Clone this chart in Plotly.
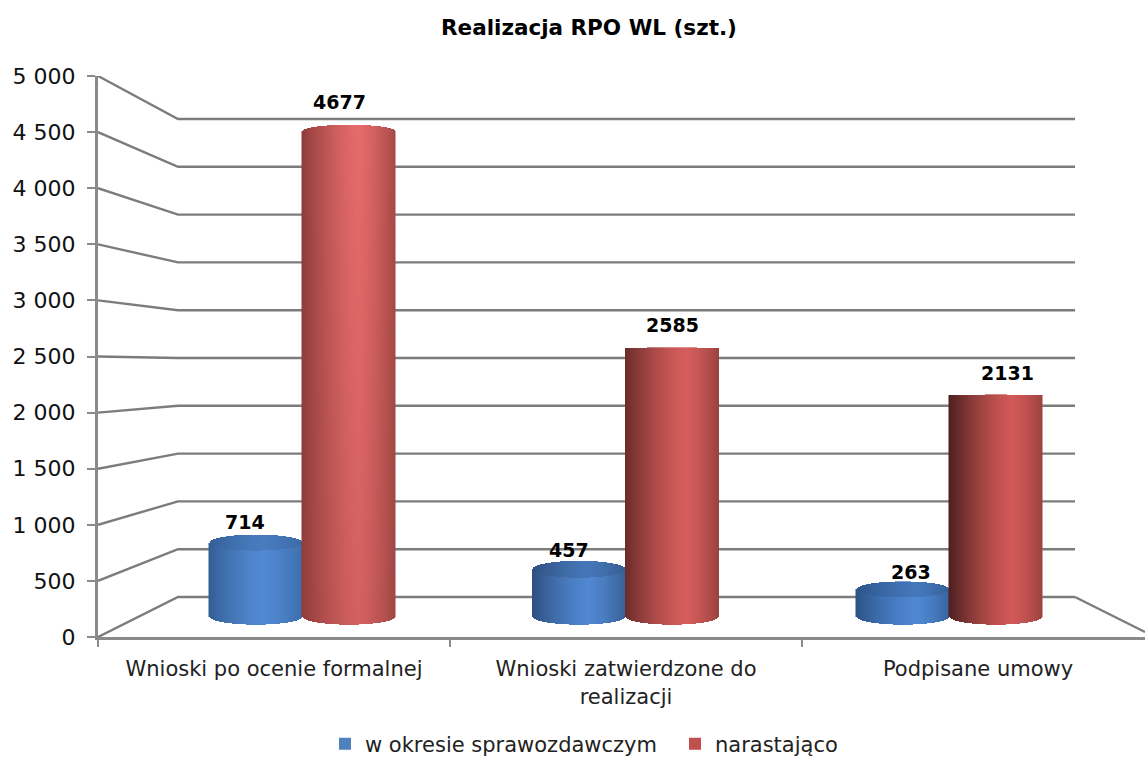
import numpy as np
import plotly.graph_objects as go

categories = ["Wnioski po ocenie formalnej", "Wnioski zatwierdzone do<br>realizacji", "Podpisane umowy"]
series_names = ["w okresie sprawozdawczym", "narastająco"]
period_values = [714, 457, 263]
cumulative_values = [4677, 2585, 2131]
y_ticks = [0, 500, 1000, 1500, 2000, 2500, 3000, 3500, 4000, 4500, 5000]
y_tick_labels = ["0", "500", "1 000", "1 500", "2 000", "2 500", "3 000", "3 500", "4 000", "4 500", "5 000"]

FONT = "DejaVu Sans"
W, H = 1145, 760
L, T, B = 98, 76, 637           # plot frame in pixels
GRID = "#7c7c7c"
AXIS = "#8a8a8a"
BLUE, RED = "#4f81bd", "#c0504d"

# front axis: 0..5000 over the frame height; categories 352 px apart
y_scale = (B - T) / 5000
x_range = [-0.5, -0.5 + (W - L) / 352]
y_range = [0, 5000]

# plane of the bars (between front and back walls)
bar_scale, bar_base_px = 0.1038, 617
bar_y_range = [(bar_base_px - B) / bar_scale, (bar_base_px - T) / bar_scale]
bar_step_px, bar_centre_px = 323.5, 302
bar_x_range = [(L - bar_centre_px) / bar_step_px, (W - bar_centre_px) / bar_step_px]
bar_w = 93 / bar_step_px

# back wall expressed on the front axis
back_scale, back_base_px = 0.0956, 597
def back(v):
    return (B - (back_base_px - v * back_scale)) / y_scale
def px_x(p):
    return (p - L) / 352 - 0.5

wx, wy = [], []
for v in y_ticks:
    wx += [-0.5, px_x(178), px_x(1075), None]
    wy += [v, back(v), back(v), None]
wx += [px_x(1075), px_x(1145)]
wy += [back(0), (B - 632) / y_scale]

fig = go.Figure()
fig.add_trace(go.Scatter(x=wx, y=wy, mode="lines", line=dict(color=GRID, width=2.4),
                         showlegend=False, hoverinfo="skip", xaxis="x", yaxis="y"))

xs = list(range(len(categories)))
fig.add_trace(go.Bar(x=xs, y=period_values, name=series_names[0], width=bar_w, offset=-bar_w,
                     marker=dict(color=BLUE, line=dict(width=0)), xaxis="x2", yaxis="y2", hoverinfo="skip"))
fig.add_trace(go.Bar(x=xs, y=cumulative_values, name=series_names[1], width=bar_w, offset=0,
                     marker=dict(color=RED, line=dict(width=0)), xaxis="x2", yaxis="y2", hoverinfo="skip"))

# cylinder shading: (dark edge, highlight, highlight position, right edge level, top-rim px, vertical fade)
blue_style = [("#345f96", "#5189d2", 0.15, 0.35, 8, 0.0),
              ("#2f5080", "#5087d0", 0.20, 0.30, 8.5, 0.0),
              ("#2d5488", "#4f87d2", 0.30, 0.30, 8, 0.0)]
red_style = [("#8f3d3b", "#e56b6a", 0.20, 0.25, 6.5, 0.22),
             ("#6b2c2a", "#d55d5b", 0.30, 0.45, 1, 0.0),
             ("#4d2120", "#d05856", 0.35, 0.60, 1, 0.0)]
BOTTOM_RY = 8 / bar_scale
POWER = 1.4

def cylinder(centre, value, style):
    dark, hi, tp, right, ry_px, fade = style
    ry = ry_px / bar_scale
    x = np.linspace(centre, centre + bar_w, 94)
    y = np.arange(-BOTTOM_RY - 8, value + ry + 8, 1.0 / bar_scale)
    t = (x - centre) / bar_w * 2 - 1
    e = np.sqrt(np.clip(1 - t ** 2, 0, 1))
    prof = np.where(t < tp, 1 - (np.abs(t - tp) / (1 + tp)) ** POWER,
                    1 - (1 - right) * (np.abs(t - tp) / (1 - tp)) ** POWER)
    Y, _ = np.meshgrid(y, x, indexing="ij")
    P = np.tile(prof, (len(y), 1))
    E = np.tile(e, (len(y), 1))
    Z = P * (1 - fade * (1 - np.clip(Y / max(value, 1), 0, 1)))
    if ry_px > 7 and value < 1000:
        cap = Y > value - ry * E
        Z = np.where(cap, Z * 0.68, Z)
    Z = np.where((Y < -BOTTOM_RY * E) | (Y > value + ry * E), np.nan, Z)
    return go.Heatmap(x=x, y=y, z=np.round(Z, 3), zmin=0, zmax=1,
                      colorscale=[[0, dark], [1, hi]], showscale=False,
                      hoverinfo="skip", xaxis="x3", yaxis="y3")

for i in xs:
    fig.add_trace(cylinder(i - bar_w, period_values[i], blue_style[i]))
    fig.add_trace(cylinder(i, cumulative_values[i], red_style[i]))

# value labels
label_shift = {  # (dx px, dy px) per series and category
    0: [(-11, 21), (-10, 20), (8, 18)],
    1: [(-9, 30), (0, 24), (12, 23)],
}
annots = []
for s, vals in enumerate([period_values, cumulative_values]):
    for i, v in enumerate(vals):
        annots.append(dict(x=i + (bar_w / 2 if s else -bar_w / 2), y=v, xref="x2", yref="y2",
                           text=str(v), showarrow=False, xanchor="center", yanchor="middle",
                           xshift=label_shift[s][i][0], yshift=label_shift[s][i][1],
                           font=dict(family=FONT, size=19, color="#000", weight="bold")))

fig.update_layout(
    width=W, height=H, autosize=False,
    margin=dict(l=L, r=0, t=T, b=H - B, pad=0),
    paper_bgcolor="white", plot_bgcolor="white",
    barmode="overlay", bargap=0,
    font=dict(family=FONT, size=21, color="#111"),
    title=dict(text="<b>Realizacja RPO WL (szt.)</b>", x=589 / W, xref="container", xanchor="center",
               y=1 - 27 / H, yref="container", yanchor="middle",
               font=dict(family=FONT, size=21.5, color="#000")),
    xaxis=dict(range=x_range, tickvals=xs, ticktext=categories, ticklen=0, showgrid=False, zeroline=False,
               showline=True, linecolor=AXIS, linewidth=3, ticklabelstandoff=11,
               tickfont=dict(family=FONT, size=21, color="#222"),
               minor=dict(tickmode="array", tickvals=[-0.5, 0.5, 1.5], ticklen=7, ticks="outside",
                          tickcolor=AXIS, tickwidth=2)),
    yaxis=dict(range=y_range, tickvals=y_ticks, ticktext=y_tick_labels, ticks="outside", ticklen=8,
               tickcolor=AXIS, tickwidth=2, showgrid=False, zeroline=False,
               showline=True, linecolor=AXIS, linewidth=3, ticklabelstandoff=7,
               tickfont=dict(family=FONT, size=22, color="#111")),
    xaxis2=dict(range=bar_x_range, overlaying="x", visible=False, anchor="y2"),
    yaxis2=dict(range=bar_y_range, overlaying="y", visible=False, anchor="x2"),
    xaxis3=dict(range=bar_x_range, overlaying="x", visible=False, anchor="y3"),
    yaxis3=dict(range=bar_y_range, overlaying="y", visible=False, anchor="x3"),
    annotations=annots,
    legend=dict(orientation="h", xref="container", yref="container", x=325 / W, y=1 - 744 / H,
                xanchor="left", yanchor="middle", font=dict(family=FONT, size=21, color="#222"),
                traceorder="normal", entrywidth=305, entrywidthmode="pixels",
                bgcolor="rgba(0,0,0,0)"),
    showlegend=True,
)

fig.write_html("out.html", config={"displayModeBar": False},
               post_script="document.body.style.margin='0';document.body.style.overflow='hidden';")
